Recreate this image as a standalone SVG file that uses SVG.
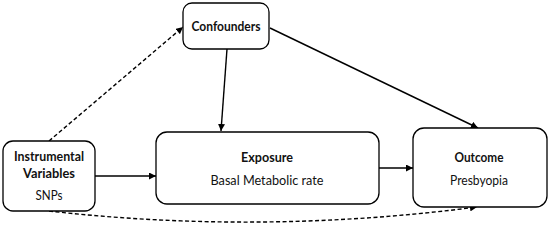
<svg xmlns="http://www.w3.org/2000/svg" width="550" height="226" viewBox="0 0 550 226">
<style>
.box{fill:#fff;stroke:#000;stroke-width:1.3}
.t{font-family:Lato,"Open Sans","Liberation Sans",sans-serif;font-size:13px;fill:#111;text-anchor:middle}
.b{font-weight:bold}
.c{fill:none;stroke:#000;stroke-width:1.4}
.d{stroke-dasharray:4 2.5}
</style>
<defs>
<marker id="ah" viewBox="0 0 10 10" refX="10" refY="5" markerWidth="7" markerHeight="7" orient="auto" markerUnits="userSpaceOnUse">
<path d="M0,0 L10,5 L0,10 z" fill="#000"/>
</marker>
</defs>
<rect width="550" height="226" fill="#fff"/>
<g id="connectors">
<path class="c" d="M227,49 L221,131" marker-end="url(#ah)"/>
<path class="c" d="M270,28 L478,128" marker-end="url(#ah)"/>
<path class="c d" d="M49,141 L183,27" marker-end="url(#ah)"/>
<path class="c" d="M95,176 L156,176" marker-end="url(#ah)"/>
<path class="c" d="M379,168 L413,168" marker-end="url(#ah)"/>
<path class="c d" d="M49,211 Q262,235 477,207" marker-end="url(#ah)"/>
</g>
<g id="confounders">
<rect class="box" x="183" y="3" width="86" height="46" rx="9"/>
<text class="t b" x="226" y="31" textLength="69" lengthAdjust="spacingAndGlyphs">Confounders</text>
</g>
<g id="instrumental">
<rect class="box" x="3" y="141" width="92" height="70" rx="10"/>
<text class="t b" x="49" y="161" textLength="70" lengthAdjust="spacingAndGlyphs">Instrumental</text>
<text class="t b" x="49" y="178" textLength="52" lengthAdjust="spacingAndGlyphs">Variables</text>
<text class="t" x="49" y="200" textLength="27" lengthAdjust="spacingAndGlyphs">SNPs</text>
</g>
<g id="exposure">
<rect class="box" x="156" y="132" width="223" height="72" rx="11"/>
<text class="t b" x="267" y="162" textLength="52" lengthAdjust="spacingAndGlyphs">Exposure</text>
<text class="t" x="267" y="185" textLength="113" lengthAdjust="spacingAndGlyphs">Basal Metabolic rate</text>
</g>
<g id="outcome">
<rect class="box" x="413" y="128" width="134" height="79" rx="11"/>
<text class="t b" x="479" y="162" textLength="49" lengthAdjust="spacingAndGlyphs">Outcome</text>
<text class="t" x="479" y="185" textLength="58" lengthAdjust="spacingAndGlyphs">Presbyopia</text>
</g>
</svg>
